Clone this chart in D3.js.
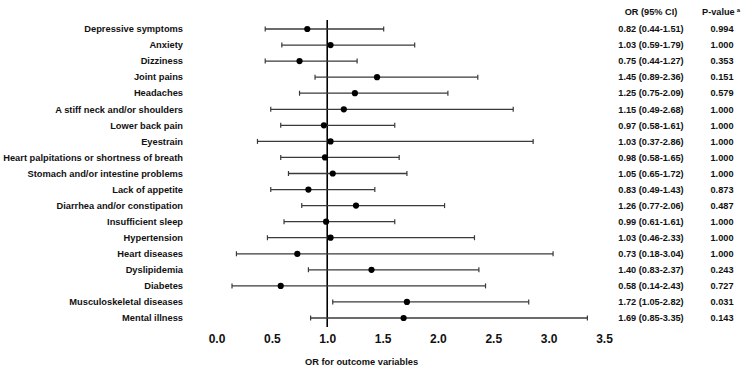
<!DOCTYPE html>
<html>
<head>
<meta charset="utf-8">
<script src="https://cdn.jsdelivr.net/npm/d3@7"></script>
<style>
  html, body { margin: 0; padding: 0; background: #fff; }
  svg text { font-family: "Liberation Sans", Arial, sans-serif; fill: #111; }
</style>
</head>
<body>
<svg id="chart" width="750" height="373"></svg>
<script>
// outcome variables, top to bottom
const outcomes = [
  "Depressive symptoms", "Anxiety", "Dizziness", "Joint pains", "Headaches",
  "A stiff neck and/or shoulders", "Lower back pain", "Eyestrain",
  "Heart palpitations or shortness of breath", "Stomach and/or intestine problems",
  "Lack of appetite", "Diarrhea and/or constipation", "Insufficient sleep",
  "Hypertension", "Heart diseases", "Dyslipidemia", "Diabetes",
  "Musculoskeletal diseases", "Mental illness"
];
const oddsRatio = [0.82, 1.03, 0.75, 1.45, 1.25, 1.15, 0.97, 1.03, 0.98, 1.05,
                   0.83, 1.26, 0.99, 1.03, 0.73, 1.40, 0.58, 1.72, 1.69];
const ciLow  = [0.44, 0.59, 0.44, 0.89, 0.75, 0.49, 0.58, 0.37, 0.58, 0.65,
                0.49, 0.77, 0.61, 0.46, 0.18, 0.83, 0.14, 1.05, 0.85];
const ciHigh = [1.51, 1.79, 1.27, 2.36, 2.09, 2.68, 1.61, 2.86, 1.65, 1.72,
                1.43, 2.06, 1.61, 2.33, 3.04, 2.37, 2.43, 2.82, 3.35];
const pValues = ["0.994", "1.000", "0.353", "0.151", "0.579", "1.000", "1.000", "1.000", "1.000", "1.000",
                 "0.873", "0.487", "1.000", "1.000", "1.000", "0.243", "0.727", "0.031", "0.143"];
const xTicks = [0, 0.5, 1.0, 1.5, 2.0, 2.5, 3.0, 3.5];
const refLine = 1.0;

const svg = d3.select("#chart");

// scales
const x = d3.scaleLinear().domain([0, 3.5]).range([216.5, 604]);
const y = d3.scalePoint().domain(outcomes).range([29, 318]);

const rows = outcomes.map((name, i) => ({
  name: name, or: oddsRatio[i], lo: ciLow[i], hi: ciHigh[i], p: pValues[i]
}));

// reference line at OR = 1
svg.append("line")
  .attr("x1", x(refLine)).attr("x2", x(refLine))
  .attr("y1", 20).attr("y2", 327)
  .attr("stroke", "#000")
  .attr("stroke-width", 1.6);

const row = svg.selectAll("g.row")
  .data(rows)
  .join("g")
  .attr("class", "row")
  .attr("transform", d => `translate(0,${y(d.name)})`);

// CI whiskers
row.append("line")
  .attr("x1", d => x(d.lo)).attr("x2", d => x(d.hi))
  .attr("stroke", "#3a3a3a").attr("stroke-width", 1.3);
row.append("line")
  .attr("x1", d => x(d.lo)).attr("x2", d => x(d.lo))
  .attr("y1", -2.5).attr("y2", 2.5)
  .attr("stroke", "#3a3a3a").attr("stroke-width", 1.2);
row.append("line")
  .attr("x1", d => x(d.hi)).attr("x2", d => x(d.hi))
  .attr("y1", -2.5).attr("y2", 2.5)
  .attr("stroke", "#3a3a3a").attr("stroke-width", 1.2);

// point estimates
row.append("circle")
  .attr("cx", d => x(d.or))
  .attr("r", 3.1)
  .attr("fill", "#000");

// row labels
row.append("text")
  .attr("x", 183).attr("dy", "0.35em")
  .attr("text-anchor", "end")
  .style("font-size", "9.3px").style("font-weight", "bold")
  .text(d => d.name);

// OR (95% CI) column
row.append("text")
  .attr("x", 651).attr("dy", "0.35em")
  .attr("text-anchor", "middle")
  .style("font-size", "9.2px").style("font-weight", "bold")
  .text(d => `${d.or.toFixed(2)} (${d.lo.toFixed(2)}-${d.hi.toFixed(2)})`);

// P-value column
row.append("text")
  .attr("x", 722).attr("dy", "0.35em")
  .attr("text-anchor", "middle")
  .style("font-size", "9.2px").style("font-weight", "bold")
  .text(d => d.p);

// column headers
svg.append("text")
  .attr("x", 651).attr("y", 12).attr("dy", "0.35em")
  .attr("text-anchor", "middle")
  .style("font-size", "9.2px").style("font-weight", "bold")
  .text("OR (95% CI)");
const ph = svg.append("text")
  .attr("x", 702).attr("y", 12).attr("dy", "0.35em")
  .style("font-size", "9.2px").style("font-weight", "bold");
ph.append("tspan").text("P-value");
ph.append("tspan").attr("dx", 2).attr("dy", -3).style("font-size", "6px").text("a");

// x axis (labels only)
const axis = svg.append("g")
  .attr("transform", "translate(0,334)")
  .call(d3.axisBottom(x).tickValues(xTicks).tickFormat(d3.format(".1f")).tickSize(0).tickPadding(0));
axis.select(".domain").remove();
axis.selectAll("text")
  .style("font-family", "'Liberation Sans', Arial, sans-serif")
  .style("font-size", "12px").style("font-weight", "bold")
  .attr("fill", "#1a1a1a");

svg.append("text")
  .attr("x", 361.5).attr("y", 362).attr("dy", "0.35em")
  .attr("text-anchor", "middle")
  .style("font-size", "9.3px").style("font-weight", "bold")
  .text("OR for outcome variables");
</script>
</body>
</html>
